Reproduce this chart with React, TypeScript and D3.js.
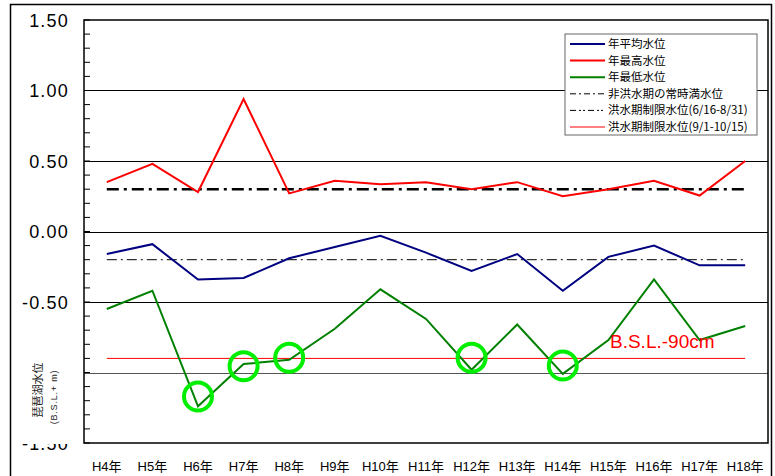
import React from "react";
import * as d3 from "d3";

// Fiscal years (Heisei)
const years = ["H4", "H5", "H6", "H7", "H8", "H9", "H10", "H11", "H12", "H13", "H14", "H15", "H16", "H17", "H18"];

// Lake Biwa water level, B.S.L. + m
const avgLevel = [-0.16, -0.09, -0.34, -0.33, -0.19, -0.11, -0.03, -0.15, -0.28, -0.16, -0.42, -0.18, -0.1, -0.24, -0.24];
const maxLevel = [0.35, 0.48, 0.28, 0.94, 0.27, 0.36, 0.335, 0.35, 0.3, 0.35, 0.25, 0.3, 0.36, 0.255, 0.5];
const minLevel = [-0.55, -0.42, -1.24, -0.94, -0.91, -0.69, -0.41, -0.62, -0.98, -0.66, -1.01, -0.77, -0.34, -0.77, -0.67];

// Reference levels
const normalFullLevel = 0.3; // 非洪水期の常時満水位
const floodLimitSummer = -0.2; // 洪水期制限水位(6/16-8/31)
const floodLimitAutumn = -0.9; // 洪水期制限水位(9/1-10/15)

const yTicks = [1.5, 1.0, 0.5, 0.0, -0.5, -1.0, -1.5];
const yTickLabels = ["1.50", "1.00", "0.50", "0.00", "-0.50", "-1.00", "-1.50"];

// Years where the minimum level dropped below B.S.L.-90cm
const markedYears = ["H6", "H7", "H8", "H12", "H14"];
const markedLevels = [-1.17, -0.955, -0.895, -0.895, -0.95];

const legendLabels = [
  "年平均水位",
  "年最高水位",
  "年最低水位",
  "非洪水期の常時満水位",
  "洪水期制限水位(6/16-8/31)",
  "洪水期制限水位(9/1-10/15)",
];

const W = 775;
const H = 476;
const plot = { left: 84, right: 768, top: 20, bottom: 443 };
const latin = "'Liberation Sans', Arial, 'Noto Sans CJK JP', sans-serif";
const cjk = "'Noto Sans CJK JP', 'Liberation Sans', sans-serif";

export default function App() {
  const x = d3
    .scaleLinear()
    .domain([-0.5, years.length - 0.5])
    .range([plot.left, plot.right]);
  const y = d3.scaleLinear().domain([-1.5, 1.5]).range([plot.bottom, plot.top]);

  const line = d3
    .line<number>()
    .x((_, i) => x(i))
    .y((d) => y(d));

  const minorTicks = d3.range(-15, 16).map((k) => k / 10);
  const x0 = x(0);
  const x1 = x(years.length - 1);

  const legendStyles = [
    { stroke: "#000080", width: 2, dash: undefined as string | undefined },
    { stroke: "#ff0000", width: 2, dash: undefined },
    { stroke: "#008000", width: 2, dash: undefined },
    { stroke: "#000", width: 1, dash: "6,3,2,3" },
    { stroke: "#000", width: 1, dash: "6,3,2,2,2,3" },
    { stroke: "#ff8080", width: 2, dash: undefined },
  ];

  return (
    <svg
      width={W}
      height={H}
      style={{ position: "fixed", left: 0, top: 0, background: "#fff" }}
    >
      <rect x={0} y={0} width={W} height={H} fill="#fff" />
      {/* outer frame */}
      <rect x={10.5} y={4.5} width={761} height={480} fill="none" stroke="#000" strokeWidth={1.5} />

      {/* y tick labels */}
      {yTicks.map((t, i) => (
        <text
          key={"yl" + i}
          x={69}
          y={y(t) + 6.5}
          textAnchor="end"
          fontFamily={latin}
          fontSize={18}
          letterSpacing={1.2}
          fill="#000"
        >
          {yTickLabels[i]}
        </text>
      ))}
      {/* panel behind the axis title */}
      <rect x={12} y={345} width={70} height={99} fill="#fff" />
      <g transform={`translate(42,390) rotate(-90)`}>
        <text textAnchor="middle" fontFamily={cjk} fontSize={11} fill="#222">
          琵琶湖水位
        </text>
      </g>
      <g transform={`translate(57,397) rotate(-90)`}>
        <text
          textAnchor="middle"
          fontFamily={latin}
          fontSize={9}
          letterSpacing={0.8}
          fill="#222"
        >
          (B.S.L.+ m)
        </text>
      </g>

      {/* gridlines */}
      {yTicks
        .filter((t) => t > -1.5 && t < 1.5)
        .map((t) => (
          <line
            key={"g" + t}
            x1={plot.left}
            x2={plot.right}
            y1={Math.round(y(t)) + 0.5}
            y2={Math.round(y(t)) + 0.5}
            stroke={t === -1.0 ? "#555" : "#000"}
            strokeWidth={1}
          />
        ))}

      {/* plot frame */}
      <rect
        x={plot.left}
        y={plot.top}
        width={plot.right - plot.left}
        height={plot.bottom - plot.top}
        fill="none"
        stroke="#000"
        strokeWidth={1.5}
      />
      {/* minor ticks */}
      {minorTicks.map((t) => (
        <line
          key={"mt" + t}
          x1={plot.left}
          x2={plot.left + 6}
          y1={y(t)}
          y2={y(t)}
          stroke="#000"
          strokeWidth={1}
        />
      ))}

      {/* reference levels */}
      <line
        x1={x0}
        x2={x1}
        y1={y(normalFullLevel)}
        y2={y(normalFullLevel)}
        stroke="#000"
        strokeWidth={2.5}
        strokeDasharray="12,5,3,5"
      />
      <line
        x1={x0}
        x2={x1}
        y1={y(floodLimitSummer)}
        y2={y(floodLimitSummer)}
        stroke="#000"
        strokeWidth={1}
        strokeDasharray="10,4,2,4"
      />
      <line
        x1={x0}
        x2={x1}
        y1={y(floodLimitAutumn)}
        y2={y(floodLimitAutumn)}
        stroke="#ff0000"
        strokeWidth={1}
      />

      {/* series */}
      <path d={line(maxLevel) || ""} fill="none" stroke="#ff0000" strokeWidth={2} />
      <path d={line(avgLevel) || ""} fill="none" stroke="#000080" strokeWidth={2} />
      <path d={line(minLevel) || ""} fill="none" stroke="#008000" strokeWidth={2} />

      <text x={610} y={348} fontFamily={latin} fontSize={19} fill="#ff0000">
        B.S.L.-90cm
      </text>

      {/* highlighted low-water years */}
      {markedYears.map((yr, i) => (
        <circle
          key={"c" + yr}
          cx={x(years.indexOf(yr))}
          cy={y(markedLevels[i])}
          r={14}
          fill="none"
          stroke="#00ee00"
          strokeWidth={4}
        />
      ))}

      {/* x labels */}
      {years.map((yr, i) => (
        <text
          key={"xl" + yr}
          x={x(i)}
          y={471}
          textAnchor="middle"
          fontFamily={latin}
          fontSize={13}
          fill="#000"
        >
          {yr + "年"}
        </text>
      ))}

      {/* legend */}
      <g transform="translate(565,34)">
        <rect x={0} y={0} width={192} height={101} fill="#fff" stroke="#666" strokeWidth={1} />
        {legendLabels.map((lab, i) => {
          const ly = 10 + i * 16.6;
          const s = legendStyles[i];
          return (
            <g key={"lg" + i}>
              <line
                x1={5}
                x2={40}
                y1={ly}
                y2={ly}
                stroke={s.stroke}
                strokeWidth={s.width}
                strokeDasharray={s.dash}
              />
              <text x={43} y={ly + 4} fontFamily={cjk} fontSize={11.5} fill="#000">
                {lab}
              </text>
            </g>
          );
        })}
      </g>
    </svg>
  );
}
